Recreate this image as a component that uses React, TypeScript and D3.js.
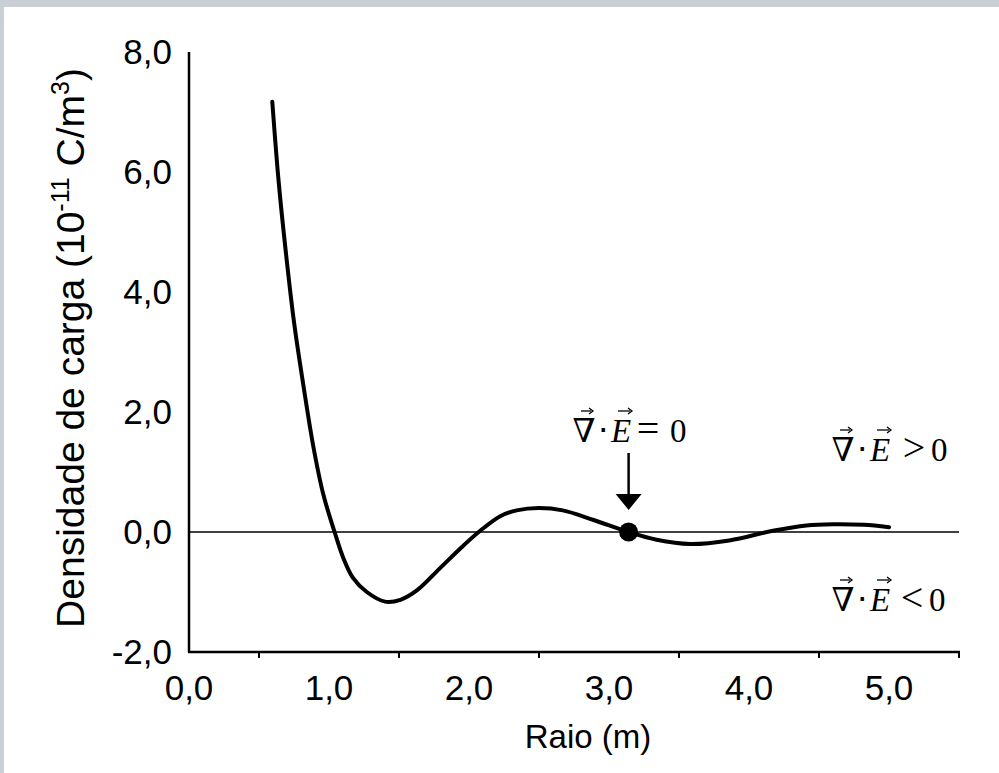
import React from 'react';
import * as d3 from 'd3';

// raio (m) e densidade de carga (10^-11 C/m^3)
const raio = [0.595, 0.64, 0.69, 0.75, 0.82, 0.89, 0.96, 1.04, 1.10, 1.17, 1.27, 1.40, 1.51, 1.63, 1.79, 1.94, 2.08, 2.22, 2.34, 2.50, 2.67, 2.89, 3.14, 3.34, 3.58, 3.86, 4.17, 4.41, 4.60, 4.82, 5.00];
const densidade = [7.17, 5.85, 4.70, 3.50, 2.40, 1.40, 0.62, 0.0, -0.42, -0.76, -1.00, -1.16, -1.13, -0.97, -0.61, -0.27, 0.02, 0.26, 0.36, 0.40, 0.36, 0.20, 0.0, -0.13, -0.20, -0.14, 0.02, 0.11, 0.13, 0.12, 0.08];

const xLabels = [0, 1, 2, 3, 4, 5];
const xTicks = [0.5, 1.5, 2.5, 3.5, 4.5, 5.5];
const yLabels = [-2, 0, 2, 4, 6, 8];
const pontoNulo = { r: 3.14, rho: 0 };

const W = 999;
const H = 773;
const sans = 'Liberation Sans, Arial, sans-serif';
const serif = 'Liberation Serif, Times New Roman, serif';

const fmt = (v: number) => v.toFixed(1).replace('.', ',');

const x = d3.scaleLinear().domain([0, 5.5]).range([189, 959]);
const y = d3.scaleLinear().domain([-2, 8]).range([652, 52]);

const line = d3.line<number>()
  .x((_, i) => x(raio[i]))
  .y(d => y(d))
  .curve(d3.curveCatmullRom.alpha(0.5));

// seta vetorial pequena sobre um símbolo
const SetaVetor = ({ cx, cy, w }: { cx: number; cy: number; w: number }) => (
  <g>
    <line x1={cx - w / 2} x2={cx + w / 2 - 2} y1={cy} y2={cy} stroke="#000" strokeWidth={1.3} />
    <path d={`M${cx + w / 2 - 4},${cy - 3} L${cx + w / 2},${cy} L${cx + w / 2 - 4},${cy + 3}`} fill="none" stroke="#000" strokeWidth={1.3} />
  </g>
);

// expressão div E
const Divergencia = ({ left, base, op, opX, zeroX }: { left: number; base: number; op: string; opX: number; zeroX: number }) => (
  <g fontFamily={serif} fontSize={33}>
    <text x={left + 11} y={base} textAnchor="middle" fontFamily="DejaVu Serif" fontSize={33}>∇</text>
    <SetaVetor cx={left + 14} cy={base - 31} w={12} />
    <text x={left + 30} y={base} textAnchor="middle">⋅</text>
    <text x={left + 38} y={base} fontStyle="italic">E</text>
    <SetaVetor cx={left + 52} cy={base - 31} w={14} />
    <text x={left + opX} y={base} textAnchor="middle" fontSize={40}>{op}</text>
    <text x={left + zeroX} y={base}>0</text>
  </g>
);

export default function App() {
  return (
    <svg width={W} height={H} style={{ position: 'absolute', left: 0, top: 0 }}>
      <rect width={W} height={H} fill="#c9cfd4" />
      <rect x={4} y={7} width={W - 4} height={H - 7} fill="#ffffff" />

      {/* eixos */}
      <line x1={x(0)} x2={x(0)} y1={y(8)} y2={y(-2)} stroke="#000" strokeWidth={2.5} />
      <line x1={x(0) - 1} x2={x(5.5) + 1} y1={y(-2)} y2={y(-2)} stroke="#000" strokeWidth={2.5} />
      <line x1={x(0)} x2={x(5.5)} y1={y(0)} y2={y(0)} stroke="#000" strokeWidth={1.6} />
      {xTicks.map(t => (
        <line key={t} x1={x(t)} x2={x(t)} y1={y(-2)} y2={y(-2) + 6} stroke="#000" strokeWidth={2} />
      ))}
      {xLabels.map(t => (
        <text key={t} x={x(t)} y={700} textAnchor="middle" fontFamily={sans} fontSize={35}>{fmt(t)}</text>
      ))}
      {yLabels.map(t => (
        <text key={t} x={172} y={y(t) + 12} textAnchor="end" fontFamily={sans} fontSize={35}>{fmt(t)}</text>
      ))}

      <text x={588} y={748} textAnchor="middle" fontFamily={sans} fontSize={33}>Raio (m)</text>
      <text transform={`translate(84, 348) rotate(-90)`} textAnchor="middle" fontFamily={sans} fontSize={39}>
        Densidade de carga (10<tspan dy={-15} fontSize={25}>-11</tspan><tspan dy={15}> C/m</tspan><tspan dy={-15} fontSize={25}>3</tspan><tspan dy={15}>)</tspan>
      </text>

      {/* curva */}
      <path d={line(densidade) ?? ''} fill="none" stroke="#000" strokeWidth={4} strokeLinejoin="round" strokeLinecap="round" />
      <circle cx={x(pontoNulo.r)} cy={y(pontoNulo.rho)} r={9.5} fill="#000" />

      {/* seta para o ponto nulo */}
      <line x1={x(pontoNulo.r)} x2={x(pontoNulo.r)} y1={453} y2={496} stroke="#000" strokeWidth={2.5} />
      <path d={`M${x(pontoNulo.r) - 13},494 L${x(pontoNulo.r) + 13},494 L${x(pontoNulo.r)},510 Z`} fill="#000" />

      <Divergencia left={573} base={442} op="=" opX={75} zeroX={97} />
      <Divergencia left={832} base={461} op=">" opX={82} zeroX={99} />
      <Divergencia left={832} base={611} op="<" opX={80} zeroX={97} />
    </svg>
  );
}
